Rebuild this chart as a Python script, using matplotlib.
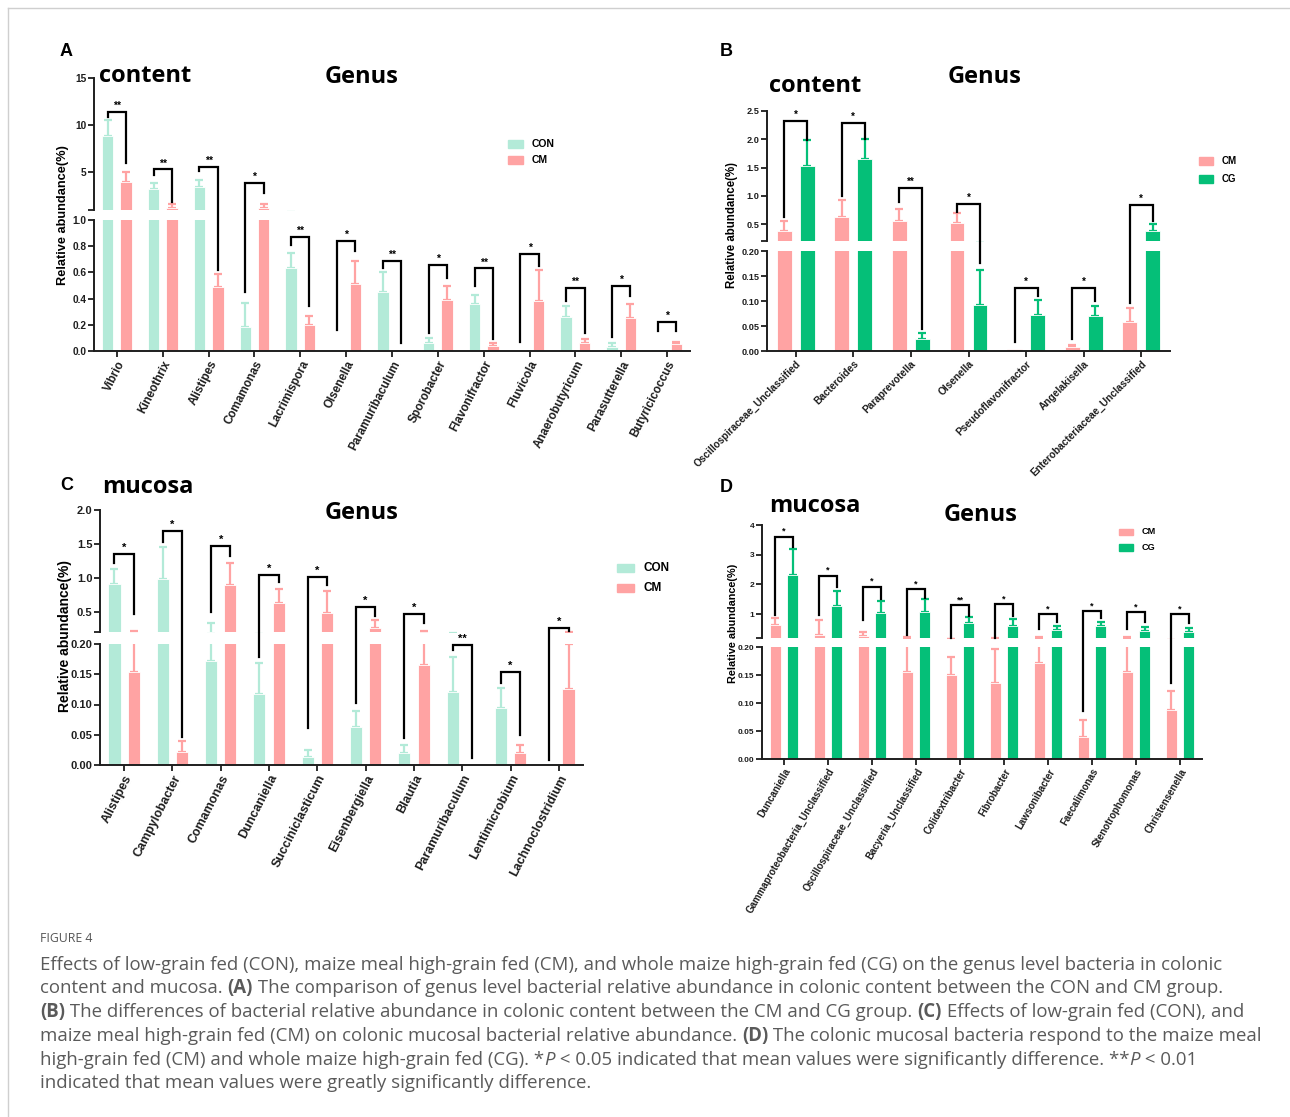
import matplotlib
matplotlib.use("Agg")
import matplotlib.pyplot as plt
from matplotlib.lines import Line2D
from matplotlib.patches import Rectangle
import numpy as np

W, H = 1290, 1117
fig = plt.figure(figsize=(W / 100, H / 100), dpi=100)
fig.patch.set_facecolor("white")

CON_COL = "#b3ead8"
CM_COL = "#ffa3a3"
CG_COL = "#05bf78"
AX_COL = "#1e1e1e"
SANS = ["Liberation Sans", "DejaVu Sans"]
TITLE = ["Open Sans", "DejaVu Sans"]

# ---- panel A: content, CON vs CM
a_genus = ["Vibrio", "Kineothrix", "Alistipes", "Comamonas", "Lacrimispora", "Olsenella",
           "Paramuribaculum", "Sporobacter", "Flavonifractor", "Fluvicola", "Anaerobutyricum",
           "Parasutterella", "Butyricicoccus"]
a_con = [8.9, 3.2, 3.4, 0.18, 0.63, 0.01, 0.45, 0.06, 0.36, 0.0, 0.26, 0.03, 0.01]
a_con_err = [1.6, 0.7, 0.8, 0.19, 0.12, 0.0, 0.15, 0.04, 0.07, 0.0, 0.08, 0.03, 0.0]
a_cm = [4.0, 1.2, 0.49, 1.2, 0.2, 0.51, 0.0, 0.39, 0.04, 0.38, 0.06, 0.25, 0.05]
a_cm_err = [1.0, 0.4, 0.1, 0.4, 0.07, 0.18, 0.0, 0.11, 0.02, 0.24, 0.03, 0.11, 0.02]
a_br = [11.4, 5.3, 5.6, 3.9, 0.87, 0.84, 0.69, 0.66, 0.63, 0.74, 0.48, 0.5, 0.22]
a_leg_l = [10.9, 4.7, 5.1, 0.45, 0.81, 0.16, 0.63, 0.14, 0.5, 0.07, 0.38, 0.11, 0.155]
a_leg_r = [6.0, 1.9, 0.62, 2.8, 0.34, 0.76, 0.06, 0.56, 0.09, 0.65, 0.14, 0.42, 0.155]
a_sig = ["**", "**", "**", "*", "**", "*", "**", "*", "**", "*", "**", "*", "*"]

# ---- panel B: content, CM vs CG
b_genus = ["Oscillospiraceae_Unclassified", "Bacteroides", "Paraprevotella", "Olsenella",
           "Pseudoflavonifractor", "Angelakisella", "Enterobacteriaceae_Unclassified"]
b_cm = [0.37, 0.62, 0.55, 0.51, 0.004, 0.008, 0.058]
b_cm_err = [0.19, 0.3, 0.22, 0.18, 0.0, 0.004, 0.029]
b_cg = [1.52, 1.65, 0.025, 0.093, 0.073, 0.071, 0.37]
b_cg_err = [0.46, 0.36, 0.012, 0.069, 0.029, 0.019, 0.13]
b_br = [2.32, 2.29, 1.14, 0.86, 0.126, 0.126, 0.84]
b_leg_l = [0.62, 1.0, 0.89, 0.72, 0.018, 0.024, 0.096]
b_leg_r = [1.98, 2.0, 0.045, 0.176, 0.11, 0.1, 0.55]
b_sig = ["*", "*", "**", "*", "*", "*", "*"]

# ---- panel C: mucosa, CON vs CM
c_genus = ["Alistipes", "Campylobacter", "Comamonas", "Duncaniella", "Succiniclasticum",
           "Eisenbergiella", "Blautia", "Paramuribaculum", "Lentimicrobium", "Lachnoclostridium"]
c_con = [0.91, 0.98, 0.172, 0.117, 0.013, 0.062, 0.02, 0.12, 0.094, 0.002]
c_con_err = [0.22, 0.47, 0.16, 0.051, 0.011, 0.028, 0.013, 0.058, 0.034, 0.0]
c_cm = [0.154, 0.021, 0.9, 0.63, 0.48, 0.26, 0.165, 0.0, 0.02, 0.125]
c_cm_err = [0.066, 0.019, 0.32, 0.21, 0.33, 0.11, 0.055, 0.0, 0.013, 0.075]
c_br = [1.35, 1.69, 1.47, 1.04, 1.01, 0.57, 0.47, 0.198, 0.154, 0.265]
c_leg_l = [1.22, 1.53, 0.5, 0.178, 0.061, 0.102, 0.045, 0.19, 0.135, 0.008]
c_leg_r = [0.47, 0.046, 1.32, 0.94, 0.9, 0.43, 0.33, 0.012, 0.05, 0.21]
c_sig = ["*", "*", "*", "*", "*", "*", "*", "**", "*", "*"]

# ---- panel D: mucosa, CM vs CG
d_genus = ["Duncaniella", "Gammaproteobacteria_Unclassified", "Oscillospiraceae_Unclassified",
           "Bacyeria_Unclassified", "Colidextribacter", "Fibrobacter", "Lawsonibacter",
           "Faecalimonas", "Stenotrophomonas", "Christensenella"]
d_cm = [0.63, 0.3, 0.28, 0.155, 0.15, 0.135, 0.172, 0.04, 0.155, 0.088]
d_cm_err = [0.23, 0.5, 0.12, 0.065, 0.033, 0.061, 0.048, 0.03, 0.065, 0.034]
d_cg = [2.31, 1.27, 1.03, 1.07, 0.7, 0.6, 0.47, 0.6, 0.44, 0.4]
d_cg_err = [0.88, 0.51, 0.41, 0.43, 0.2, 0.23, 0.13, 0.13, 0.13, 0.13]
d_br = [3.6, 2.29, 1.92, 1.84, 1.3, 1.34, 1.0, 1.1, 1.07, 1.0]
d_leg_l = [0.97, 0.97, 0.8, 0.3, 0.204, 0.207, 0.5, 0.086, 0.5, 0.136]
d_leg_r = [3.25, 1.9, 1.5, 1.55, 0.95, 0.95, 0.75, 0.86, 0.75, 0.7]
d_sig = ["*", "*", "*", "*", "**", "*", "*", "*", "*", "*"]


def add_ax(left, top, right, bottom):
    return fig.add_axes([left / W, 1 - bottom / H, (right - left) / W, (bottom - top) / H])


def to_fig(ax_up, ax_lo, x, y):
    ax = ax_up if y >= ax_up.get_ylim()[0] else ax_lo
    return fig.transFigure.inverted().transform(ax.transData.transform((x, y)))


def panel(box, genus, v1, e1, c1, v2, e2, c2, up_lim, up_ticks, up_labels, lo_lim, lo_ticks,
          lo_labels, br, leg_l, leg_r, sig, rot, xfs, yfs, off, bw, cap, sfs):
    left, right, top, up_bot, lo_top, bottom = box
    ax_up = add_ax(left, top, right, up_bot)
    ax_lo = add_ax(left, lo_top, right, bottom)
    x = np.arange(len(genus))
    for ax in (ax_up, ax_lo):
        for xs, v, e, c in ((x - off, v1, e1, c1), (x + off, v2, e2, c2)):
            v = np.array(v)
            e = np.array(e)
            ax.bar(xs, v, bw, color=c, edgecolor="white", linewidth=0.6, zorder=2)
            m = e > 0
            ax.errorbar(xs[m], v[m], yerr=[np.zeros(m.sum()), e[m]], fmt="none", ecolor=c,
                        elinewidth=1.6, capsize=cap, capthick=1.6, zorder=1)
        ax.set_xlim(-0.5, len(genus) - 0.5)
        for s in ("top", "right"):
            ax.spines[s].set_visible(False)
        for s in ("left", "bottom"):
            ax.spines[s].set_linewidth(1.4)
            ax.spines[s].set_color(AX_COL)
        ax.tick_params(length=4, width=1.3, colors=AX_COL, pad=1.5)
    ax_up.set_ylim(*up_lim)
    ax_lo.set_ylim(*lo_lim)
    ax_up.spines["bottom"].set_visible(False)
    ax_up.set_xticks([])
    ax_up.set_yticks(up_ticks, up_labels, fontsize=yfs, fontweight="bold", family=SANS)
    ax_lo.set_yticks(lo_ticks, lo_labels, fontsize=yfs, fontweight="bold", family=SANS)
    ax_lo.set_xticks(x, genus, rotation=rot, ha="right", va="top", rotation_mode="anchor",
                     fontsize=xfs, fontweight="bold", family=SANS)
    for i in range(len(genus)):
        x1, x2 = i - off, i + off
        p1 = to_fig(ax_up, ax_lo, x1, leg_l[i])
        p2 = to_fig(ax_up, ax_lo, x1, br[i])
        p3 = to_fig(ax_up, ax_lo, x2, br[i])
        p4 = to_fig(ax_up, ax_lo, x2, leg_r[i])
        fig.add_artist(Line2D([p1[0], p2[0], p3[0], p4[0]], [p1[1], p2[1], p3[1], p4[1]],
                              transform=fig.transFigure, color="black", lw=1.6,
                              solid_joinstyle="miter"))
        fig.text((p2[0] + p3[0]) / 2, p2[1] + 1 / H, sig[i], ha="center", va="bottom",
                 fontsize=sfs, fontweight="bold", family=SANS)
    return ax_up, ax_lo


def legend(x, y1, y2, w, h, names, cols, fs):
    for y, n, c in ((y1, names[0], cols[0]), (y2, names[1], cols[1])):
        fig.add_artist(Rectangle((x / W, 1 - (y + h / 2) / H), w / W, h / H,
                                 transform=fig.transFigure, color=c))
        fig.text((x + w + 9) / W, 1 - y / H, n, ha="left", va="center", fontsize=fs,
                 fontweight="bold", family=SANS)


def ftext(x, y, s, **kw):
    fig.text(x / W, 1 - y / H, s, **kw)


# panel A
panel((94, 690, 78, 210, 220, 351), a_genus, a_con, a_con_err, CON_COL, a_cm, a_cm_err, CM_COL,
      (1, 15), [1, 5, 10, 15], ["", "5", "10", "15"],
      (0, 1), [0, 0.2, 0.4, 0.6, 0.8, 1.0], ["0.0", "0.2", "0.4", "0.6", "0.8", "1.0"],
      a_br, a_leg_l, a_leg_r, a_sig, 63, 8.4, 7.3, 0.2, 0.25, 2.6, 7.5)
legend(508, 144, 160, 15, 8, ["CON", "CM"], [CON_COL, CM_COL], 7.5)
ftext(63, 215, "Relative abundance(%)", rotation=90, ha="center", va="center", fontsize=9.2,
      fontweight="bold", family=SANS)
ftext(60, 52, "A", ha="left", va="center", fontsize=13, fontweight="bold", family=SANS)
ftext(99, 76, "content", ha="left", va="center", fontsize=17, fontweight="bold", family=TITLE)
ftext(325, 77, "Genus", ha="left", va="center", fontsize=17, fontweight="bold", family=TITLE)

# panel B
panel((767, 1170, 111, 241, 251, 351), b_genus, b_cm, b_cm_err, CM_COL, b_cg, b_cg_err, CG_COL,
      (0.2, 2.5), [0.2, 0.5, 1.0, 1.5, 2.0, 2.5], ["", "0.5", "1.0", "1.5", "2.0", "2.5"],
      (0, 0.2), [0, 0.05, 0.1, 0.15, 0.2], ["0.00", "0.05", "0.10", "0.15", "0.20"],
      b_br, b_leg_l, b_leg_r, b_sig, 45, 7.3, 6.6, 0.2, 0.26, 3.2, 7)
legend(1199, 161, 179, 14, 8, ["CM", "CG"], [CM_COL, CG_COL], 7)
ftext(732, 225, "Relative abundance(%)", rotation=90, ha="center", va="center", fontsize=8.3,
      fontweight="bold", family=SANS)
ftext(720, 52, "B", ha="left", va="center", fontsize=13, fontweight="bold", family=SANS)
ftext(769, 86, "content", ha="left", va="center", fontsize=17, fontweight="bold", family=TITLE)
ftext(948, 77, "Genus", ha="left", va="center", fontsize=17, fontweight="bold", family=TITLE)

# panel C
panel((100, 583, 510, 632, 644, 765), c_genus, c_con, c_con_err, CON_COL, c_cm, c_cm_err, CM_COL,
      (0.2, 2.0), [0.2, 0.5, 1.0, 1.5, 2.0], ["", "0.5", "1.0", "1.5", "2.0"],
      (0, 0.2), [0, 0.05, 0.1, 0.15, 0.2], ["0.00", "0.05", "0.10", "0.15", "0.20"],
      c_br, c_leg_l, c_leg_r, c_sig, 63, 9.0, 8.0, 0.2, 0.25, 2.6, 8)
legend(617, 568, 588, 17, 8, ["CON", "CM"], [CON_COL, CM_COL], 8.5)
ftext(65, 636, "Relative abundance(%)", rotation=90, ha="center", va="center", fontsize=10,
      fontweight="bold", family=SANS)
ftext(60, 485, "C", ha="left", va="center", fontsize=13, fontweight="bold", family=SANS)
ftext(102, 487, "mucosa", ha="left", va="center", fontsize=17, fontweight="bold", family=TITLE)
ftext(325, 513, "Genus", ha="left", va="center", fontsize=17, fontweight="bold", family=TITLE)

# panel D
panel((762, 1202, 525, 638, 647, 759), d_genus, d_cm, d_cm_err, CM_COL, d_cg, d_cg_err, CG_COL,
      (0.2, 4), [0.2, 1, 2, 3, 4], ["", "1", "2", "3", "4"],
      (0, 0.2), [0, 0.05, 0.1, 0.15, 0.2], ["0.00", "0.05", "0.10", "0.15", "0.20"],
      d_br, d_leg_l, d_leg_r, d_sig, 60, 7.0, 6.0, 0.2, 0.25, 2.6, 6.5)
legend(1119, 532, 547, 14, 7, ["CM", "CG"], [CM_COL, CG_COL], 6.6)
ftext(733, 623, "Relative abundance(%)", rotation=90, ha="center", va="center", fontsize=7.8,
      fontweight="bold", family=SANS)
ftext(720, 488, "D", ha="left", va="center", fontsize=13, fontweight="bold", family=SANS)
ftext(769, 506, "mucosa", ha="left", va="center", fontsize=17, fontweight="bold", family=TITLE)
ftext(944, 515, "Genus", ha="left", va="center", fontsize=17, fontweight="bold", family=TITLE)

# frame lines
fig.add_artist(Line2D([8 / W, 1], [1 - 8 / H, 1 - 8 / H], transform=fig.transFigure,
                      color="#cfcfcf", lw=1))
fig.add_artist(Line2D([8 / W, 8 / W], [0, 1 - 8 / H], transform=fig.transFigure,
                      color="#cfcfcf", lw=1))

# caption
CAP_COL = "#5a5a5a"
ftext(40, 938, "FIGURE 4", ha="left", va="center", fontsize=8.8, family=TITLE, color="#555555")

cap_lines = [
    [("Effects of low-grain fed (CON), maize meal high-grain fed (CM), and whole maize high-grain "
      "fed (CG) on the genus level bacteria in colonic", "normal", "normal")],
    [("content and mucosa. ", "normal", "normal"), ("(A)", "bold", "normal"),
     (" The comparison of genus level bacterial relative abundance in colonic content between "
      "the CON and CM group.", "normal", "normal")],
    [("(B)", "bold", "normal"),
     (" The differences of bacterial relative abundance in colonic content between the CM and "
      "CG group. ", "normal", "normal"), ("(C)", "bold", "normal"),
     (" Effects of low-grain fed (CON), and", "normal", "normal")],
    [("maize meal high-grain fed (CM) on colonic mucosal bacterial relative abundance. ",
      "normal", "normal"), ("(D)", "bold", "normal"),
     (" The colonic mucosal bacteria respond to the maize meal", "normal", "normal")],
    [("high-grain fed (CM) and whole maize high-grain fed (CG). *", "normal", "normal"),
     ("P", "normal", "italic"),
     (" < 0.05 indicated that mean values were significantly difference. **", "normal", "normal"),
     ("P", "normal", "italic"), (" < 0.01", "normal", "normal")],
    [("indicated that mean values were greatly significantly difference.", "normal", "normal")],
]
cap_y = [965, 988, 1012, 1036, 1060, 1083]

renderer = fig.canvas.get_renderer()


def seg_width(s, fs, weight, style):
    t1 = fig.text(0, 0, "|" + s + "|", fontsize=fs, fontweight=weight, fontstyle=style, family=TITLE)
    t2 = fig.text(0, 0, "||", fontsize=fs, fontweight=weight, fontstyle=style, family=TITLE)
    w = t1.get_window_extent(renderer).width - t2.get_window_extent(renderer).width
    t1.remove()
    t2.remove()
    return w


cap_fs = 11.5
w0 = seg_width(cap_lines[0][0][0], cap_fs, "normal", "normal")
cap_fs = cap_fs * 1186 / w0

for line, y in zip(cap_lines, cap_y):
    x = 40
    for s, weight, style in line:
        ftext(x, y, s, ha="left", va="center", fontsize=cap_fs, fontweight=weight,
              fontstyle=style, family=TITLE, color=CAP_COL)
        x += seg_width(s, cap_fs, weight, style)

fig.savefig("out.png", dpi=100, facecolor="white")
